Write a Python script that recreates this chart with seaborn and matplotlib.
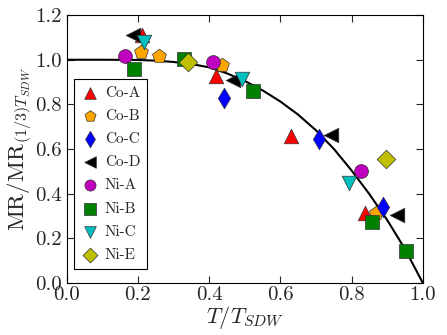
import numpy as np
import pandas as pd
import matplotlib
matplotlib.use("Agg")
import matplotlib.pyplot as plt
import seaborn as sns

# ---- data ----
series_names = ["Co-A", "Co-B", "Co-C", "Co-D", "Ni-A", "Ni-B", "Ni-C", "Ni-E"]

coA_t = [0.211, 0.419, 0.630, 0.838]
coA_v = [1.112, 0.928, 0.659, 0.312]
coB_t = [0.209, 0.260, 0.435, 0.869]
coB_v = [1.035, 1.018, 0.975, 0.313]
coC_t = [0.443, 0.709, 0.887]
coC_v = [0.828, 0.644, 0.339]
coD_t = [0.187, 0.466, 0.742, 0.927]
coD_v = [1.112, 0.910, 0.664, 0.305]
niA_t = [0.164, 0.412, 0.827]
niA_v = [1.018, 0.988, 0.502]
niB_t = [0.190, 0.329, 0.524, 0.858, 0.953]
niB_v = [0.960, 1.004, 0.858, 0.275, 0.143]
niC_t = [0.217, 0.493, 0.793]
niC_v = [1.078, 0.913, 0.450]
niE_t = [0.342, 0.897]
niE_v = [0.992, 0.556]

curve_t = [0.0, 0.1, 0.2, 0.25, 0.3, 0.35, 0.4, 0.45, 0.5, 0.55, 0.6, 0.65,
           0.7, 0.75, 0.8, 0.85, 0.9, 0.95, 1.0]
curve_v = [1.0, 1.0, 0.999, 0.996, 0.99, 0.981, 0.966, 0.939, 0.905, 0.863, 0.813, 0.754,
           0.684, 0.601, 0.504, 0.398, 0.282, 0.152, 0.0]

x_ticks = [0.0, 0.2, 0.4, 0.6, 0.8, 1.0]
y_ticks = [0.0, 0.2, 0.4, 0.6, 0.8, 1.0, 1.2]

# ---- style ----
sns.set_style("ticks")
plt.rcParams["font.family"] = ["cmr10", "DejaVu Serif"]
plt.rcParams["mathtext.fontset"] = "cm"
plt.rcParams["axes.formatter.use_mathtext"] = True
plt.rcParams["xtick.direction"] = "in"
plt.rcParams["ytick.direction"] = "in"
plt.rcParams["xtick.top"] = True
plt.rcParams["ytick.right"] = True

fig = plt.figure(figsize=(4.47, 3.35), dpi=100)
ax = fig.add_axes([0.149, 0.155, 0.797, 0.80])

specs = [
    ("Co-A", coA_t, coA_v, "^", "red", 110),
    ("Co-B", coB_t, coB_v, "p", "orange", 110),
    ("Co-C", coC_t, coC_v, "d", "blue", 110),
    ("Co-D", coD_t, coD_v, "<", "black", 110),
    ("Ni-A", niA_t, niA_v, "o", (0.75, 0, 0.75), 100),
    ("Ni-B", niB_t, niB_v, "s", (0, 0.5, 0), 100),
    ("Ni-C", niC_t, niC_v, "v", (0, 0.75, 0.75), 110),
    ("Ni-E", niE_t, niE_v, "D", (0.75, 0.75, 0), 90),
]

curve_df = pd.DataFrame({"t": curve_t, "v": curve_v})
sns.lineplot(data=curve_df, x="t", y="v", color="black", lw=1.5, ax=ax,
             legend=False, zorder=2)

for name, t, v, m, c, s in specs:
    df = pd.DataFrame({"t": t, "v": v})
    sns.scatterplot(data=df, x="t", y="v", marker=m, color=c, s=s,
                    edgecolor=(0.2, 0.2, 0.2), linewidth=0.5, ax=ax,
                    label=name, zorder=3)

ax.set_xlim(0, 1.0)
ax.set_ylim(0, 1.2)
ax.set_xticks(x_ticks)
ax.set_yticks(y_ticks)
ax.set_xticklabels([f"{v:.1f}" for v in x_ticks])
ax.set_yticklabels([f"{v:.1f}" for v in y_ticks])
ax.tick_params(labelsize=15, length=5, width=0.8)
ax.tick_params(axis="x", pad=2)
ax.set_xlabel(r"$T/T_{SDW}$", fontsize=16, labelpad=0)
ax.set_ylabel(r"$\mathrm{MR}/\mathrm{MR}_{(1/3)T_{SDW}}$", fontsize=16.5, labelpad=1)
for sp in ax.spines.values():
    sp.set_linewidth(0.8)
    sp.set_color("black")

leg = ax.legend(loc="upper left", bbox_to_anchor=(0.02, 0.761), borderaxespad=0,
                fontsize=11, frameon=True, fancybox=False, handletextpad=0.4,
                labelspacing=0.62, borderpad=0.45, handlelength=1.2,
                markerscale=0.8)
leg.get_frame().set_edgecolor("black")
leg.get_frame().set_linewidth(0.8)
leg.get_frame().set_alpha(1)

fig.savefig("out.png", dpi=100)
